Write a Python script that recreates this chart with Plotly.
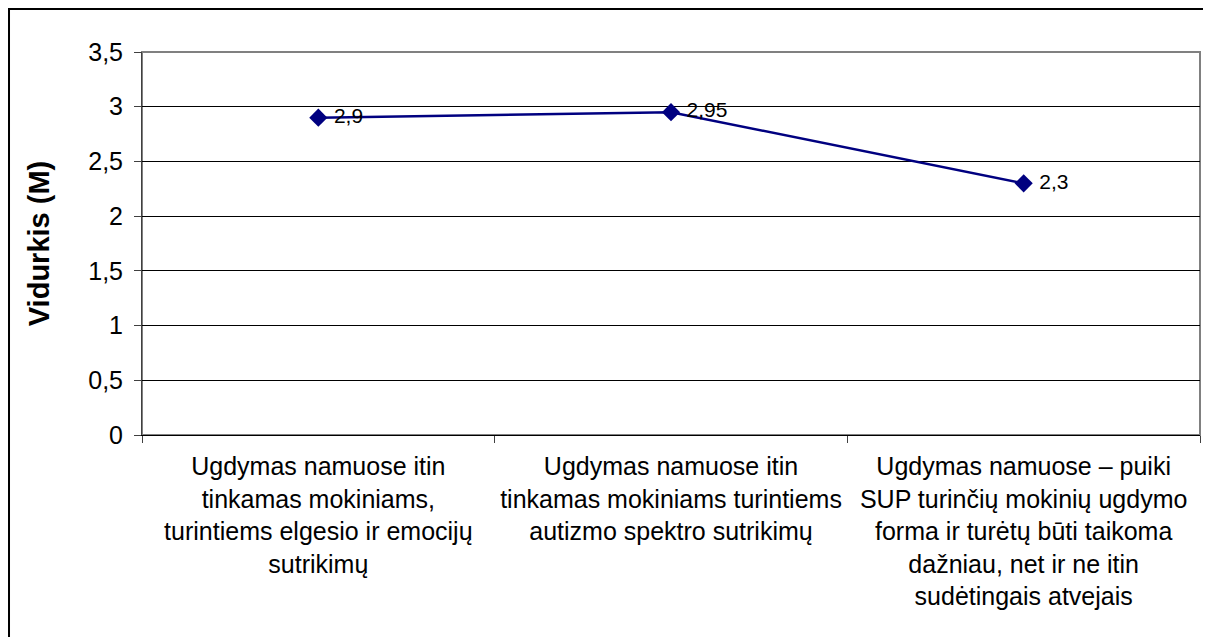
import plotly.graph_objects as go

categories = [
    "Ugdymas namuose itin<br>tinkamas mokiniams,<br>turintiems elgesio ir emocijų<br>sutrikimų",
    "Ugdymas namuose itin<br>tinkamas mokiniams turintiems<br>autizmo spektro sutrikimų",
    "Ugdymas namuose – puiki<br>SUP turinčių mokinių ugdymo<br>forma ir turėtų būti taikoma<br>dažniau, net ir ne itin<br>sudėtingais atvejais",
]
values = [2.9, 2.95, 2.3]
value_labels = ["2,9", "2,95", "2,3"]
y_title = "Vidurkis (M)"

FONT = "Arial, 'Liberation Sans', sans-serif"

# the page body has an 8px default margin; the figure is sized to fit the window
fig = go.Figure()
fig.add_trace(go.Scatter(
    x=categories, y=values,
    mode="lines+markers+text",
    line=dict(color="#000080", width=2.5),
    marker=dict(symbol="diamond", size=14, color="#000080"),
    text=[" " + t for t in value_labels],
    textposition="middle right",
    textfont=dict(family=FONT, size=21, color="black"),
    cliponaxis=False,
    showlegend=False,
))

fig.update_layout(
    width=1203, height=629,
    margin=dict(l=134, r=11, t=44, b=202),
    paper_bgcolor="white", plot_bgcolor="white",
    separators=", ",
    font=dict(family=FONT, color="black"),
    xaxis=dict(
        type="category",
        automargin=False,
        showgrid=False,
        showline=True, linecolor="black", linewidth=1,
        ticks="outside", ticklen=7, tickcolor="#404040",
        tickson="boundaries",
        tickfont=dict(family=FONT, size=25, color="black"),
        ticklabelstandoff=9,
        range=[-0.5, 2.5],
    ),
    yaxis=dict(
        automargin=False,
        range=[0, 3.5], dtick=0.5, tick0=0,
        showgrid=True, gridcolor="black", gridwidth=1,
        showline=True, linecolor="#404040", linewidth=1,
        ticks="outside", ticklen=7, tickcolor="#404040",
        tickfont=dict(family=FONT, size=25, color="black"),
        ticklabelstandoff=6,
        zeroline=False,
        title=dict(text="<b>" + y_title + "</b>",
                   font=dict(family=FONT, size=29, color="black"),
                   standoff=30),
    ),
    shapes=[
        dict(type="rect", xref="paper", yref="paper",
             x0=0, x1=1, y0=0, y1=1,
             line=dict(color="#808080", width=2), layer="below"),
        dict(type="rect", xref="paper", yref="paper",
             x0=-0.1257, x1=1.05, y0=-0.6, y1=1.1123,
             line=dict(color="black", width=2), layer="below"),
    ],
)

fig.write_html("out.html")
